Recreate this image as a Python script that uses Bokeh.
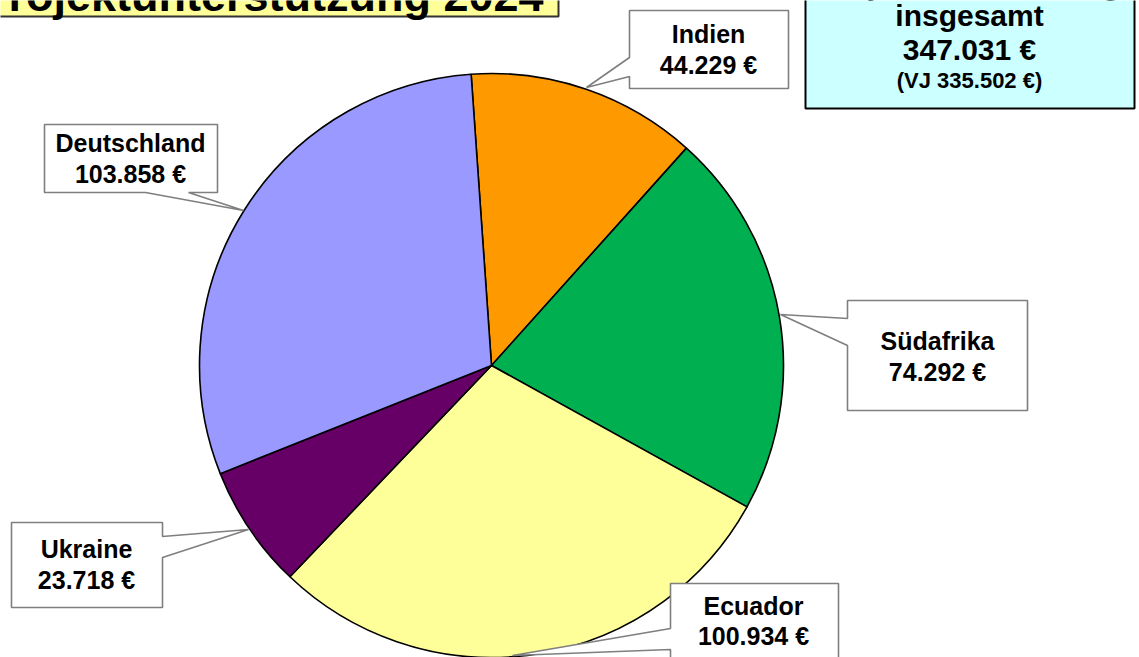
import math
from bokeh.plotting import figure
from bokeh.models import Range1d
from bokeh.core.properties import value
from bokeh.embed import file_html
from bokeh.resources import INLINE

# ---- data ----
countries = ["Indien", "Südafrika", "Ecuador", "Ukraine", "Deutschland"]
amounts = [44229, 74292, 100934, 23718, 103858]
slice_colors = ["#FF9900", "#00B050", "#FFFF99", "#660066", "#9999FF"]
previous_year_total = 335502
title_text = "Projektunterstützung  2024"
total_lines = ["Projektunterstützung", "insgesamt"]

W, H = 1139, 657
FONT = value("Liberation Sans")


def Y(v):
    return H - v


def base(v, size):
    # place alphabetic baseline at pixel row v (compensate renderer offset)
    return Y(v - 0.4 * size)


def euro(v):
    return f"{v:,}".replace(",", ".") + " €"


p = figure(width=W, height=H, x_range=Range1d(0, W), y_range=Range1d(0, H),
           output_backend="svg", toolbar_location=None,
           x_axis_location=None, y_axis_location=None, min_border=0)
p.grid.visible = False
p.outline_line_color = None
p.background_fill_color = "white"
p.border_fill_color = "white"

# ---- pie ----
cx, cy, r = 491, Y(365), 292
start_deg = 94.0
total = sum(amounts)
cum = 0
starts, ends = [], []
for a in amounts:
    s = start_deg - cum / total * 360
    cum += a
    e = start_deg - cum / total * 360
    starts.append(math.radians(s))
    ends.append(math.radians(e))
p.wedge(x=[cx] * len(amounts), y=[cy] * len(amounts), radius=r,
        start_angle=starts, end_angle=ends, direction="clock",
        fill_color=slice_colors, line_color="black", line_width=1.6)

# ---- callout boxes (layout in pixels) ----
layout = {
    "Indien": dict(pts=[(629, 10), (788, 10), (788, 88), (629, 88), (629, 76), (586, 87), (629, 57)],
                   cx=708, base=(43, 74)),
    "Südafrika": dict(pts=[(847, 300), (1027, 300), (1027, 410), (847, 410), (847, 345), (780, 314), (847, 318)],
                      cx=937, base=(350, 381)),
    "Ecuador": dict(pts=[(670, 583), (838, 583), (838, 720), (670, 720), (670, 649), (512, 655), (670, 628)],
                    cx=753, base=(615, 645)),
    "Ukraine": dict(pts=[(11, 522), (162, 522), (162, 536), (248, 529), (162, 557), (162, 607), (11, 607)],
                    cx=86, base=(558, 589)),
    "Deutschland": dict(pts=[(44, 124), (217, 124), (217, 192), (188, 192), (243, 210), (145, 192), (44, 192)],
                        cx=130, base=(152, 183)),
}

LS = 25
for name, amt in zip(countries, amounts):
    L = layout[name]
    xs = [q[0] for q in L["pts"]]
    ys = [Y(q[1]) for q in L["pts"]]
    p.patch(xs, ys, fill_color="white", line_color="#7F7F7F", line_width=1.6)
    p.text(x=[L["cx"], L["cx"]], y=[base(L["base"][0], LS), base(L["base"][1], LS)],
           text=[name, euro(amt)], text_font=FONT, text_font_style="bold",
           text_font_size=f"{LS}px", text_align="center", text_baseline="alphabetic",
           text_color="black")

# ---- total box (top right, partly off-page) ----
TS = 30
p.quad(left=805, right=1134, top=Y(-60), bottom=Y(108), fill_color="#CCFFFF",
       line_color="black", line_width=2)
p.text(x=[969, 969, 969], y=[base(-4, TS), base(27, TS), base(61, TS)],
       text=[total_lines[0], total_lines[1], euro(total)], text_font=FONT,
       text_font_style="bold", text_font_size=f"{TS}px", text_align="center",
       text_baseline="alphabetic", text_color="black")
VS = 22
p.text(x=[969], y=[base(89, VS)], text=["(VJ " + euro(previous_year_total) + ")"],
       text_font=FONT, text_font_style="bold", text_font_size=f"{VS}px",
       text_align="center", text_baseline="alphabetic", text_color="black")

# ---- title box (top left, partly off-page) ----
HS = 45
p.quad(left=-20, right=558, top=Y(-80), bottom=Y(16), fill_color="#FFFF99",
       line_color="#333333", line_width=2)
p.text(x=[-22], y=[base(13, HS)], text=[title_text], text_font=FONT,
       text_font_style="bold", text_font_size=f"{HS}px", text_align="left",
       text_baseline="alphabetic", text_color="black")

open("out.html", "w").write(file_html(p, INLINE))
